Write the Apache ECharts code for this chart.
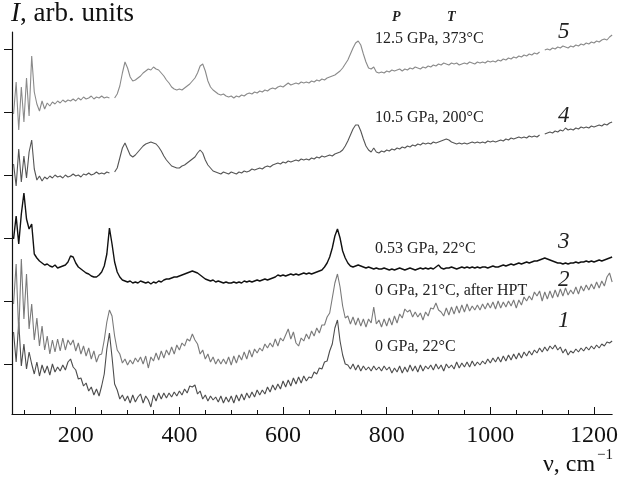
<!DOCTYPE html>
<html><head><meta charset="utf-8">
<script src="https://cdn.jsdelivr.net/npm/echarts@6/dist/echarts.min.js"></script>
<style>html,body{margin:0;padding:0;background:#fff}#c{width:621px;height:478px}</style>
</head><body><div id="c"></div>
<script>
// Raman shift (cm^-1) sample positions
const wavenumbers = [
 80,85,90,95,100,105,110,115,120,125,130,135,140,145,150,155,160,165,170,175,
 180,185,190,195,200,205,210,215,220,225,230,235,240,245,250,255,260,265,270,275,
 280,285,290,295,300,305,310,315,320,325,330,335,340,345,350,355,360,365,370,375,
 380,385,390,395,400,405,410,415,420,425,430,435,440,445,450,455,460,465,470,475,
 480,485,490,495,500,505,510,515,520,525,530,535,540,545,550,555,560,565,570,575,
 580,585,590,595,600,605,610,615,620,625,630,635,640,645,650,655,660,665,670,675,
 680,685,690,695,700,705,710,715,720,725,730,735,740,745,750,755,760,765,770,775,
 780,785,790,795,800,805,810,815,820,825,830,835,840,845,850,855,860,865,870,875,
 880,885,890,895,900,905,910,915,920,925,930,935,940,945,950,955,960,965,970,975,
 980,985,990,995,1000,1005,1010,1015,1020,1025,1030,1035,1040,1045,1050,1055,1060,1065,1070,1075,
 1080,1085,1090,1095,1100,1105,1110,1115,1120,1125,1130,1135,1140,1145,1150,1155,1160,1165,1170,1175,
 1180,1185,1190,1195,1200,1205,1210,1215,1220,1225,1230,1235
];
// Spectrum 5: 12.5 GPa, 373°C (offset intensity, arb. units)
const spectrum5 = [
 300,332,284,327,292,336,298,358,322,310,303,313,305,311,308,312,310,313,311,314,
 312,314,313,315,313,316,314,317,315,316,318,315,317,316,318,316,317,316,null,316,
 320,328,341,352,346,337,333,334,336,338,341,343,345,344,347,345,344,341,338,334,
 331,327,325,324,325,324,326,328,330,333,336,341,348,350,343,333,327,324,322,320,
 319,320,318,317,318,316,318,317,319,318,320,321,320,322,321,323,322,324,323,325,
 326,325,327,328,327,329,331,329,330,331,330,332,331,332,331,333,332,334,333,335,
 334,336,337,338,339,341,343,346,350,354,360,366,371,373,369,360,352,346,345,347,
 342,341,342,341,343,342,344,343,344,345,343,345,344,346,345,347,346,345,347,346,
 348,347,349,348,350,349,351,350,349,351,350,351,349,350,351,350,352,351,350,352,
 351,352,351,353,352,353,352,354,353,355,354,356,355,357,356,358,357,359,358,360,
 359,361,360,362,null,364,365,364,366,365,367,366,368,367,366,368,367,369,368,370,
 369,371,370,372,371,373,372,374,375,374,377,379
];
// Spectrum 4: 10.5 GPa, 200°C
const spectrum4 = [
 250,228,265,232,258,236,262,274,245,234,238,233,237,235,238,236,239,237,238,236,
 239,237,238,240,238,239,237,240,239,241,239,240,242,240,241,240,242,241,null,242,
 246,256,266,271,265,259,257,259,262,265,268,270,271,272,271,270,267,263,258,254,
 251,248,247,246,246,248,249,251,253,255,257,261,264,261,254,249,246,243,242,241,
 240,242,241,240,242,241,240,242,241,243,242,243,245,244,245,246,245,247,248,247,
 249,250,251,250,252,251,253,252,253,254,253,255,254,255,254,256,255,257,256,258,
 257,258,259,258,260,261,262,264,268,273,279,285,289,289,283,275,268,264,262,266,
 262,261,263,262,264,263,265,264,266,265,267,266,268,267,269,268,270,269,271,270,
 271,270,272,271,272,273,274,275,274,272,271,270,271,270,271,270,271,272,271,272,
 271,272,271,273,272,273,272,273,274,273,275,274,276,275,276,277,276,277,276,278,
 277,278,277,279,null,280,281,282,281,283,282,284,283,286,284,285,284,286,285,287,
 286,287,286,288,287,288,289,288,290,289,291,292
];
// Spectrum 3: 0.53 GPa, 22°C
const spectrum3 = [
 175,198,170,200,221,195,185,190,160,156,153,151,149,150,148,147,149,146,147,148,
 149,152,158,157,151,147,145,143,141,140,138,137,137,139,142,148,160,186,170,152,
 142,137,134,133,132,133,131,132,131,133,132,131,132,130,132,131,133,132,134,135,
 135,136,137,137,138,139,140,141,142,143,142,141,139,137,135,134,133,134,132,133,
 132,131,132,131,131,132,131,132,131,133,132,133,132,133,134,133,134,135,134,135,
 136,137,139,138,139,138,139,140,139,140,139,140,141,140,141,140,141,142,143,144,
 147,151,157,166,178,185,176,163,156,151,148,147,148,149,148,147,146,147,146,145,
 146,145,145,146,145,144,145,144,145,146,145,144,145,146,145,144,145,146,145,146,
 145,146,145,147,149,146,145,146,146,147,146,145,146,147,146,147,146,147,146,147,
 146,147,147,146,147,148,147,147,148,149,148,149,150,149,150,151,150,151,152,151,
 152,153,153,154,155,156,155,154,153,152,151,151,150,151,150,151,151,152,151,152,
 152,153,152,153,152,153,154,153,154,155,156,157
];
// Spectrum 2: 0 GPa, 21°C, after HPT
const spectrum2 = [
 110,150,80,155,95,140,85,110,74,96,68,88,64,78,60,74,62,75,63,76,
 64,74,69,74,63,71,60,68,58,66,55,63,52,59,60,74,92,104,98,78,
 64,60,51,55,49,54,50,56,52,57,50,58,46,57,53,61,54,63,56,64,
 59,67,60,69,64,71,68,75,73,80,74,70,60,64,55,60,52,57,50,55,
 50,55,50,57,49,58,51,59,54,62,55,64,57,65,61,66,63,70,66,71,
 67,75,68,76,73,79,85,75,82,71,68,76,73,80,75,83,78,86,81,89,
 89,97,101,116,131,140,127,108,96,98,90,97,89,96,88,95,87,95,91,107,
 90,94,87,95,88,96,89,98,91,100,96,105,102,104,97,102,97,101,94,102,
 98,106,105,111,104,102,98,106,99,107,100,108,101,109,102,110,103,108,104,109,
 104,110,105,111,106,112,105,113,106,112,107,113,108,114,106,114,109,117,113,118,
 114,122,118,123,113,122,115,123,116,124,117,125,118,126,119,124,120,127,120,128,
 123,129,124,130,125,132,126,133,128,137,141,132
];
// Spectrum 1: 0 GPa, 22°C
const spectrum1 = [
 82,52,92,48,70,45,62,50,40,52,38,49,41,48,39,50,42,47,43,49,
 44,52,55,47,44,35,36,28,31,23,27,19,25,18,28,40,65,81,57,30,
 24,15,19,13,18,11,19,12,17,20,11,18,14,7,19,13,21,15,21,16,
 21,17,22,18,23,19,25,21,28,27,29,20,23,15,19,13,18,14,17,12,
 18,11,17,12,18,11,19,13,20,14,21,16,22,17,24,19,24,20,27,22,
 29,24,30,25,33,27,34,28,36,30,37,31,38,33,37,36,42,40,46,45,
 52,53,63,70,86,94,73,59,50,49,45,50,44,49,43,48,44,47,43,48,
 44,47,43,48,44,47,41,46,42,48,41,47,42,49,43,48,42,49,43,48,
 45,49,44,50,45,49,43,50,46,49,45,52,46,51,47,52,47,53,48,52,
 49,53,50,55,51,56,52,57,52,58,53,59,54,60,55,61,56,62,58,63,
 59,64,61,66,62,67,63,68,65,69,64,67,61,65,59,63,61,65,62,66,
 63,67,64,68,65,69,66,70,68,72,71,73
];
const xMajorTicks = [200, 400, 600, 800, 1000, 1200];
const xMinorTicks = [100,150,250,300,350,450,500,550,650,700,750,850,900,950,1050,1100,1150];
const yTicks = [50, 113, 176, 239, 302, 365];
const seriesNames = ['1', '2', '3', '4', '5'];
const seriesColors = ['#4d4d4d', '#7a7a7a', '#111111', '#555555', '#8a8a8a'];
const curveLabels = ['0 GPa, 22°C', '0 GPa, 21°C, after HPT', '0.53 GPa, 22°C', '10.5 GPa, 200°C', '12.5 GPa, 373°C'];

const SERIF = '"Liberation Serif", "Times New Roman", serif';
const spectra = [spectrum1, spectrum2, spectrum3, spectrum4, spectrum5];
function pairs(ys) { return wavenumbers.map((x, i) => [x, ys[i] === null ? '-' : ys[i]]); }

const chart = echarts.init(document.getElementById('c'), null, {renderer: 'canvas'});
const labelPos = [[375, 348], [375, 292], [375, 250], [375, 119], [375, 40]];
const numPos = [[565, 322], [565, 281], [565, 243], [565, 117], [565, 33]];
const graphics = [];
curveLabels.forEach((t, i) => {
  graphics.push({type: 'text', left: labelPos[i][0], top: labelPos[i][1] - 9,
    style: {text: t, font: '16px ' + SERIF, fill: '#222'}});
  graphics.push({type: 'text', left: numPos[i][0] - 7, top: numPos[i][1] - 13,
    style: {text: seriesNames[i], font: 'italic 23px ' + SERIF, fill: '#222'}});
});
graphics.push({type: 'text', left: 392, top: 10, style: {text: 'P', font: 'italic bold 14px ' + SERIF, fill: '#222'}});
graphics.push({type: 'text', left: 447, top: 10, style: {text: 'T', font: 'italic bold 14px ' + SERIF, fill: '#222'}});
graphics.push({type: 'text', left: 11, top: 0, style: {
  text: '{i|I}, arb. units', font: '27px ' + SERIF, fill: '#111',
  rich: {i: {fontStyle: 'italic', fontSize: 27, fontFamily: SERIF}}}});
graphics.push({type: 'text', style: {x: 543, y: 465, text: 'ν, cm', font: '24px ' + SERIF, fill: '#111', align: 'left', verticalAlign: 'middle'}});
graphics.push({type: 'text', style: {x: 597, y: 455, text: '−1', font: '15px ' + SERIF, fill: '#111', align: 'left', verticalAlign: 'middle'}});

chart.setOption({
  animation: false,
  backgroundColor: '#fff',
  grid: {left: 12, right: 8, top: 32, bottom: 64, containLabel: false},
  xAxis: [{
    type: 'value', min: 77, max: 1235, position: 'bottom',
    axisLine: {show: true, lineStyle: {color: '#111', width: 1.2}},
    axisTick: {show: true, inside: true, length: 7, customValues: xMajorTicks, lineStyle: {color: '#111', width: 1}},
    axisLabel: {show: true, customValues: xMajorTicks, formatter: v => String(v), fontSize: 24, fontFamily: SERIF, color: '#111', margin: 10},
    splitLine: {show: false}
  }, {
    type: 'value', min: 77, max: 1235, position: 'bottom', offset: 0,
    axisLine: {show: false},
    axisTick: {show: true, inside: true, length: 4, customValues: xMinorTicks, lineStyle: {color: '#111', width: 1}},
    axisLabel: {show: false},
    splitLine: {show: false}
  }],
  yAxis: {
    type: 'value', min: 0, max: 382,
    axisLine: {show: true, lineStyle: {color: '#111', width: 1.2}},
    axisTick: {show: true, inside: false, length: 8, customValues: yTicks, lineStyle: {color: '#111', width: 1}},
    axisLabel: {show: false},
    splitLine: {show: false}
  },
  series: spectra.map((ys, i) => ({
    name: seriesNames[i], type: 'line', xAxisIndex: 0, data: pairs(ys),
    showSymbol: false, symbol: 'none', connectNulls: false,
    lineStyle: {color: seriesColors[i], width: i === 2 ? 1.4 : 1.1},
    z: i === 2 ? 5 : 2
  })),
  graphic: graphics
});
</script></body></html>
